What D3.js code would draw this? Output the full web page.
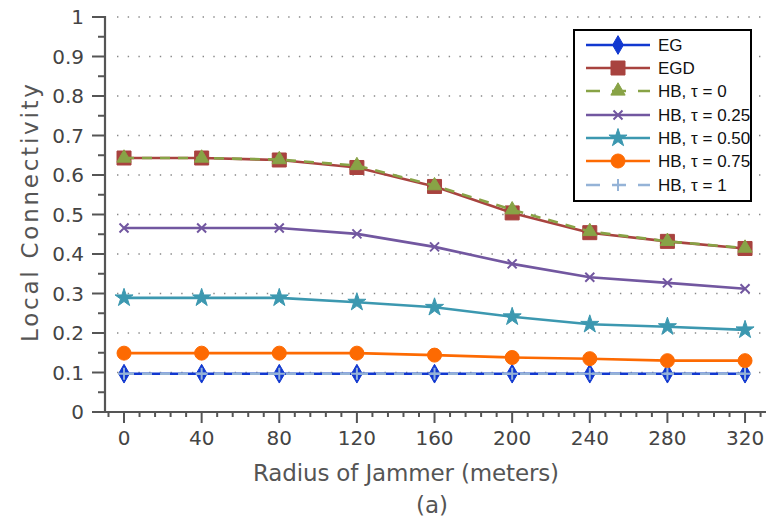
<!DOCTYPE html>
<html>
<head>
<meta charset="utf-8">
<script src="https://cdn.jsdelivr.net/npm/d3@7"></script>
<style>
  body { margin: 0; background: #fff; }
  svg { display: block; }
</style>
</head>
<body>
<svg id="chart"></svg>
<script>
// data
var radius = [0, 40, 80, 120, 160, 200, 240, 280, 320];
var seriesNames = ["EG", "EGD", "HB, \u03c4 = 0", "HB, \u03c4 = 0.25", "HB, \u03c4 = 0.50", "HB, \u03c4 = 0.75", "HB, \u03c4 = 1"];
var eg     = [0.097, 0.097, 0.097, 0.097, 0.097, 0.097, 0.097, 0.097, 0.097];
var egd    = [0.643, 0.643, 0.638, 0.619, 0.571, 0.504, 0.454, 0.432, 0.414];
var hb0    = [0.643, 0.643, 0.639, 0.624, 0.573, 0.512, 0.457, 0.432, 0.415];
var hb025  = [0.466, 0.466, 0.466, 0.451, 0.418, 0.375, 0.341, 0.327, 0.312];
var hb050  = [0.289, 0.289, 0.289, 0.278, 0.265, 0.241, 0.222, 0.216, 0.208];
var hb075  = [0.149, 0.149, 0.149, 0.149, 0.144, 0.138, 0.135, 0.130, 0.130];
var hb1    = [0.097, 0.097, 0.097, 0.097, 0.097, 0.097, 0.097, 0.097, 0.097];
var xTicks = [0, 40, 80, 120, 160, 200, 240, 280, 320];
var yTicks = [0, 0.1, 0.2, 0.3, 0.4, 0.5, 0.6, 0.7, 0.8, 0.9, 1];

var W = 766, H = 527;
var font = "'DejaVu Sans', sans-serif";
var axisColor = "#555";

var styles = [
  { color: "#1138d0", dash: null, marker: "diamond", size: 13 },
  { color: "#a8433f", dash: null, marker: "square", size: 14 },
  { color: "#88a346", dash: "10,8", marker: "triangle", size: 14 },
  { color: "#7257a0", dash: null, marker: "cross", size: 9 },
  { color: "#3c98b0", dash: null, marker: "star", size: 15 },
  { color: "#fd6a02", dash: null, marker: "circle", size: 14 },
  { color: "#95b3d7", dash: "10,8", marker: "plus", size: 12 }
];
var allValues = [eg, egd, hb0, hb025, hb050, hb075, hb1];

var svg = d3.select("#chart").attr("width", W).attr("height", H);

var x = d3.scaleLinear().domain([-9.8, 330.8]).range([105, 766]);
var y = d3.scaleLinear().domain([0, 1]).range([412, 17]);

// dotted grid
var grid = svg.append("g");
yTicks.filter(function(t) { return t > 0; }).forEach(function(t) {
  grid.append("line")
    .attr("x1", 117).attr("x2", 762)
    .attr("y1", y(t)).attr("y2", y(t))
    .attr("stroke", "#888").attr("stroke-width", 1.4)
    .attr("stroke-dasharray", "1.4,9.3");
});

// y axis
var yAxis = svg.append("g").attr("transform", "translate(105,0)");
yAxis.append("line").attr("x1", 0).attr("x2", 0).attr("y1", y(1) - 1).attr("y2", y(0))
  .attr("stroke", axisColor).attr("stroke-width", 2.2);
d3.range(0, 1.001, 0.05).forEach(function(t, i) {
  var major = i % 2 === 0;
  yAxis.append("line").attr("x1", major ? -13 : -7).attr("x2", 0)
    .attr("y1", y(t)).attr("y2", y(t))
    .attr("stroke", axisColor).attr("stroke-width", 2);
});
yAxis.selectAll("text").data(yTicks).enter().append("text")
  .attr("x", -21).attr("y", function(d) { return y(d); })
  .attr("dy", "0.36em").attr("text-anchor", "end")
  .attr("font-family", font).attr("font-size", 20).attr("fill", "#444")
  .text(function(d) { return String(+d.toFixed(1)); });

// x axis
var xAxis = svg.append("g").attr("transform", "translate(0,412)");
xAxis.append("line").attr("x1", 92).attr("x2", 766).attr("y1", 0).attr("y2", 0)
  .attr("stroke", axisColor).attr("stroke-width", 2.2);
d3.range(-8, 329, 8).forEach(function(t) {
  var major = t % 40 === 0;
  xAxis.append("line").attr("x1", x(t)).attr("x2", x(t))
    .attr("y1", 0).attr("y2", major ? 11 : 5)
    .attr("stroke", axisColor).attr("stroke-width", 2);
});
xAxis.selectAll("text").data(xTicks).enter().append("text")
  .attr("x", function(d) { return x(d); }).attr("y", 33)
  .attr("text-anchor", "middle")
  .attr("font-family", font).attr("font-size", 20).attr("fill", "#444")
  .text(function(d) { return d; });

// titles
svg.append("text").attr("x", 406).attr("y", 481).attr("text-anchor", "middle")
  .attr("font-family", font).attr("font-size", 23).attr("fill", "#555")
  .attr("textLength", 306)
  .text("Radius of Jammer (meters)");
svg.append("text").attr("x", 432).attr("y", 513).attr("text-anchor", "middle")
  .attr("font-family", font).attr("font-size", 23).attr("fill", "#555")
  .text("(a)");
svg.append("text").attr("transform", "translate(38,213) rotate(-90)")
  .attr("text-anchor", "middle")
  .attr("font-family", font).attr("font-size", 23).attr("fill", "#555")
  .attr("textLength", 258)
  .text("Local Connectivity");

function markerPath(type, size) {
  var map = {
    diamond: d3.symbolDiamond, square: d3.symbolSquare, triangle: d3.symbolTriangle,
    star: d3.symbolStar, circle: d3.symbolCircle
  };
  var h = size / 2;
  if (type === "plus") {
    return "M" + (-h) + ",0H" + h + "M0," + (-h) + "V" + h;
  }
  if (type === "cross") {
    return "M" + (-h) + "," + (-h) + "L" + h + "," + h + "M" + (-h) + "," + h + "L" + h + "," + (-h);
  }
  var k = { diamond: 0.6, square: 1, triangle: 0.45, star: 0.45, circle: 0.785 }[type];
  return d3.symbol().type(map[type]).size(size * size * k)();
}

function drawMarker(g, s, px, py) {
  var open = s.marker === "cross" || s.marker === "plus";
  g.append("path").attr("d", markerPath(s.marker, s.size))
    .attr("transform", "translate(" + px + "," + py + ")")
    .attr("fill", open ? "none" : s.color)
    .attr("stroke", s.color)
    .attr("stroke-width", open ? 2 : 1);
}

var line = d3.line()
  .x(function(d, i) { return x(radius[i]); })
  .y(function(d) { return y(d); });

var plot = svg.append("g");
allValues.forEach(function(vals, si) {
  var s = styles[si];
  var g = plot.append("g");
  g.append("path").attr("d", line(vals))
    .attr("fill", "none").attr("stroke", s.color).attr("stroke-width", 2.6)
    .attr("stroke-dasharray", s.dash);
  vals.forEach(function(v, i) { drawMarker(g, s, x(radius[i]), y(v)); });
});

// legend
var lg = svg.append("g");
lg.append("rect").attr("x", 574).attr("y", 30).attr("width", 177).attr("height", 171)
  .attr("fill", "#fff").attr("stroke", "#000").attr("stroke-width", 2);
var rowY = [45, 68, 91, 115, 138, 161, 185];
seriesNames.forEach(function(name, i) {
  var s = styles[i];
  var ry = rowY[i];
  lg.append("line").attr("x1", 586).attr("x2", 650).attr("y1", ry).attr("y2", ry)
    .attr("stroke", s.color).attr("stroke-width", 2.6)
    .attr("stroke-dasharray", s.dash ? "14,12" : null);
  drawMarker(lg, s, 618, ry);
  lg.append("text").attr("x", 658).attr("y", ry).attr("dy", "0.36em")
    .attr("font-family", "'Liberation Sans', Arial, sans-serif").attr("font-size", 17).attr("fill", "#111")
    .text(name);
});
</script>
</body>
</html>
